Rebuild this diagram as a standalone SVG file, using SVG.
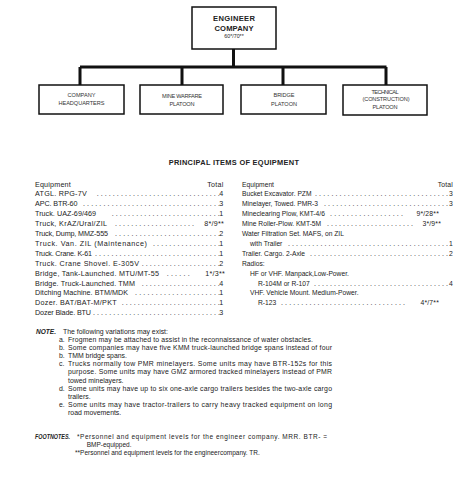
<svg xmlns="http://www.w3.org/2000/svg" width="470" height="480" viewBox="0 0 470 480">
<style>
text{font-family:"Liberation Sans",Arial,sans-serif;fill:#222}
.box{fill:#fff;stroke:#111;stroke-width:1.5}
.con{stroke:#111;stroke-width:3;fill:none}
.hd{font-size:7.6px;font-weight:bold;text-anchor:middle}
.sm{font-size:5.3px;text-anchor:middle}
.bl{font-size:5.6px;text-anchor:middle;fill:#333}
.ti{font-size:7.4px;font-weight:bold;text-anchor:middle;letter-spacing:.3px}
.l{font-size:7.2px}
.r{font-size:6.7px}
.d{font-size:7px}
.t{font-size:7.1px;text-anchor:end;letter-spacing:.25px}
.tr{font-size:6.8px;text-anchor:end;letter-spacing:.2px}
.n{font-size:6.9px}
.nb{font-size:6.7px;font-weight:bold;font-style:italic}
.f{font-size:6.5px}
</style>
<g id="connectors">
<path class="con" d="M233.5 49V67M80 67H386.5M80 67V85M182 67V85M283 67V85M386 67V85"/>
</g>
<g id="engineer-company">
<rect class="box" x="192" y="7" width="84" height="42"/>
<text class="hd" x="234" y="21" textLength="42">ENGINEER</text>
<text class="hd" x="234" y="30.5" textLength="39">COMPANY</text>
<text class="sm" x="234" y="38.3">60*/70**</text>
</g>
<g id="company-hq">
<rect class="box" x="39" y="85" width="85" height="29"/>
<text class="bl" x="81.5" y="97" textLength="28">COMPANY</text>
<text class="bl" x="81.5" y="105.3" textLength="46">HEADQUARTERS</text>
</g>
<g id="mine-warfare-platoon">
<rect class="box" x="140" y="85" width="83" height="29"/>
<text class="bl" x="182" y="97.7" textLength="40">MINE WARFARE</text>
<text class="bl" x="182" y="106" textLength="25">PLATOON</text>
</g>
<g id="bridge-platoon">
<rect class="box" x="241" y="85" width="85" height="29"/>
<text class="bl" x="284" y="97" textLength="21">BRIDGE</text>
<text class="bl" x="284" y="106" textLength="26">PLATOON</text>
</g>
<g id="technical-platoon">
<rect class="box" x="343" y="85" width="84" height="30"/>
<text class="bl" x="385" y="93.7" textLength="27">TECHNICAL</text>
<text class="bl" x="386" y="101" textLength="47">(CONSTRUCTION)</text>
<text class="bl" x="385" y="108.7" textLength="25">PLATOON</text>
</g>
<g id="equipment">
<text class="ti" x="234" y="165">PRINCIPAL ITEMS OF EQUIPMENT</text>
<g id="left-list">
<text class="l" x="35" y="186.5" textLength="35.7" lengthAdjust="spacing">Equipment</text><text class="t" x="223.5" y="186.5">Total</text>
<text class="l" x="35" y="196.4" textLength="51.7" lengthAdjust="spacing">ATGL. RPG-7V</text><text class="d" x="96.7" y="196.4" textLength="123" lengthAdjust="spacing">...............................</text><text class="t" x="223.5" y="196.4">4</text>
<text class="l" x="35" y="206.3" textLength="42.5" lengthAdjust="spacing">APC. BTR-60</text><text class="d" x="83" y="206.3" textLength="137" lengthAdjust="spacing">..................................</text><text class="t" x="223.5" y="206.3">3</text>
<text class="l" x="35" y="216.2" textLength="61" lengthAdjust="spacing">Truck. UAZ-69/469</text><text class="d" x="111.7" y="216.2" textLength="108" lengthAdjust="spacing">...........................</text><text class="t" x="223.5" y="216.2">1</text>
<text class="l" x="35" y="226.1" textLength="72" lengthAdjust="spacing">Truck, KrAZ/Ural/ZIL</text><text class="d" x="115" y="226.1" textLength="79" lengthAdjust="spacing">....................</text><text class="t" x="224" y="226.1">8*/9**</text>
<text class="l" x="35" y="236" textLength="73" lengthAdjust="spacing">Truck, Dump, MMZ-555</text><text class="d" x="115" y="236" textLength="105" lengthAdjust="spacing">..........................</text><text class="t" x="223.5" y="236">2</text>
<text class="l" x="35" y="245.9" textLength="112" lengthAdjust="spacing">Truck. Van. ZIL (Maintenance)</text><text class="d" x="153" y="245.9" textLength="67" lengthAdjust="spacing">.................</text><text class="t" x="223.5" y="245.9">1</text>
<text class="l" x="35" y="255.8" textLength="57" lengthAdjust="spacing">Truck. Crane. K-61</text><text class="d" x="95" y="255.8" textLength="125" lengthAdjust="spacing">...............................</text><text class="t" x="223.5" y="255.8">1</text>
<text class="l" x="35" y="265.7" textLength="104" lengthAdjust="spacing">Truck. Crane Shovel. E-305V</text><text class="d" x="141.7" y="265.7" textLength="78" lengthAdjust="spacing">....................</text><text class="t" x="223.5" y="265.7">2</text>
<text class="l" x="35" y="275.6" textLength="124" lengthAdjust="spacing">Bridge, Tank-Launched. MTU/MT-55</text><text class="d" x="166.7" y="275.6" textLength="23" lengthAdjust="spacing">......</text><text class="t" x="225" y="275.6">1*/3**</text>
<text class="l" x="35" y="285.5" textLength="100" lengthAdjust="spacing">Bridge. Truck-Launched. TMM</text><text class="d" x="141.7" y="285.5" textLength="78" lengthAdjust="spacing">....................</text><text class="t" x="223.5" y="285.5">4</text>
<text class="l" x="35" y="295.4" textLength="93" lengthAdjust="spacing">Ditching Machine. BTM/MDK</text><text class="d" x="135" y="295.4" textLength="85" lengthAdjust="spacing">.....................</text><text class="t" x="223.5" y="295.4">1</text>
<text class="l" x="35" y="305.3" textLength="81.7" lengthAdjust="spacing">Dozer. BAT/BAT-M/PKT</text><text class="d" x="121.7" y="305.3" textLength="98" lengthAdjust="spacing">.........................</text><text class="t" x="223.5" y="305.3">1</text>
<text class="l" x="35" y="315.2" textLength="56" lengthAdjust="spacing">Dozer Blade. BTU</text><text class="d" x="93" y="315.2" textLength="127" lengthAdjust="spacing">................................</text><text class="t" x="223.5" y="315.2">3</text>
</g>
<g id="right-list">
<text class="r" x="242" y="186.5">Equipment</text><text class="tr" x="453" y="186.5">Total</text>
<text class="r" x="242" y="196.4">Bucket Excavator. PZM</text><text class="d" x="315" y="196.4" textLength="133" lengthAdjust="spacing">.................................</text><text class="tr" x="453" y="196.4">3</text>
<text class="r" x="242" y="206.3">Minelayer, Towed. PMR-3</text><text class="d" x="324" y="206.3" textLength="124" lengthAdjust="spacing">...............................</text><text class="tr" x="453" y="206.3">3</text>
<text class="r" x="242" y="216.2">Mineclearing Plow, KMT-4/6</text><text class="d" x="330" y="216.2" textLength="73" lengthAdjust="spacing">..................</text><text class="tr" x="439" y="216.2">9*/28**</text>
<text class="r" x="242" y="226.1">Mine Roller-Plow. KMT-5M</text><text class="d" x="327" y="226.1" textLength="86" lengthAdjust="spacing">......................</text><text class="tr" x="441" y="226.1">3*/9**</text>
<text class="r" x="242" y="236">Water Filtration Set. MAFS, on ZIL</text>
<text class="r" x="250" y="245.9">with Trailer</text><text class="d" x="288" y="245.9" textLength="160" lengthAdjust="spacing">........................................</text><text class="tr" x="453" y="245.9">1</text>
<text class="r" x="242" y="255.8">Trailer. Cargo. 2-Axle</text><text class="d" x="310" y="255.8" textLength="138" lengthAdjust="spacing">...................................</text><text class="tr" x="453" y="255.8">2</text>
<text class="r" x="242" y="265.7">Radios:</text>
<text class="r" x="250" y="275.6">HF or VHF. Manpack,Low-Power.</text>
<text class="r" x="258" y="285.5">R-104M or R-107</text><text class="d" x="314" y="285.5" textLength="134" lengthAdjust="spacing">..................................</text><text class="tr" x="453" y="285.5">4</text>
<text class="r" x="250" y="295.4">VHF. Vehicle Mount. Medium-Power.</text>
<text class="r" x="258" y="305.3">R-123</text><text class="d" x="281" y="305.3" textLength="124" lengthAdjust="spacing">...............................</text><text class="tr" x="439" y="305.3">4*/7**</text>
</g>
</g>
<g id="notes">
<text class="nb" x="36" y="333.5" textLength="20" lengthAdjust="spacingAndGlyphs">NOTE.</text>
<text class="n" x="63" y="333.5">The following variations may exist:</text>
<text class="n" x="59" y="341.7">a.</text><text class="n" x="68" y="341.7" textLength="245" lengthAdjust="spacing">Frogmen may be attached to assist in the reconnaissance of water obstacles.</text>
<text class="n" x="59" y="349.8">b.</text><text class="n" x="68" y="349.8" textLength="264" lengthAdjust="spacing">Some companies may have five KMM truck-launched bridge spans instead of four</text>
<text class="n" x="59" y="358">b.</text><text class="n" x="68" y="358">TMM bridge spans.</text>
<text class="n" x="59" y="366.2">c.</text><text class="n" x="68" y="366.2" textLength="264" lengthAdjust="spacing">Trucks normally tow PMR minelayers. Some units may have BTR-152s for this</text>
<text class="n" x="68" y="374.4" textLength="264" lengthAdjust="spacing">purpose. Some units may have GMZ armored tracked minelayers instead of PMR</text>
<text class="n" x="68" y="382.5">towed minelayers.</text>
<text class="n" x="59" y="390.7">d.</text><text class="n" x="68" y="390.7" textLength="264" lengthAdjust="spacing">Some units may have up to six one-axle cargo trailers besides the two-axle cargo</text>
<text class="n" x="68" y="398.9">trailers.</text>
<text class="n" x="59" y="407">e.</text><text class="n" x="68" y="407" textLength="264" lengthAdjust="spacing">Some units may have tractor-trailers to carry heavy tracked equipment on long</text>
<text class="n" x="68" y="415.2">road movements.</text>
</g>
<g id="footnotes">
<text class="nb" x="35" y="438.5" textLength="35" lengthAdjust="spacingAndGlyphs">FOOTNOTES.</text>
<text class="f" x="77" y="438.5" textLength="250" lengthAdjust="spacing">*Personnel and equipment levels for the engineer company. MRR. BTR- =</text>
<text class="f" x="86.7" y="446.7">BMP-equipped.</text>
<text class="f" x="75" y="455">**Personnel and equipment levels for the engineercompany. TR.</text>
</g>
</svg>
